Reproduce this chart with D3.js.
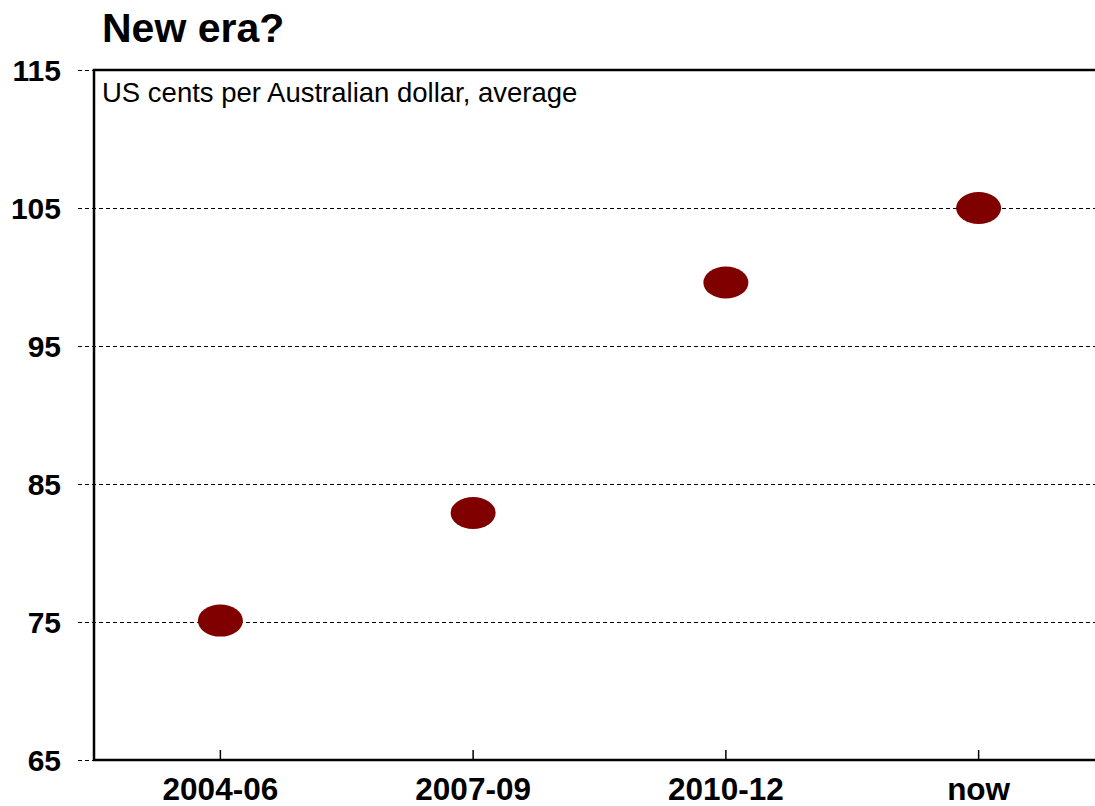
<!DOCTYPE html>
<html>
<head>
<meta charset="utf-8">
<script src="https://cdn.jsdelivr.net/npm/d3@7/dist/d3.min.js"></script>
<style>
  html, body { margin: 0; padding: 0; background: #fff; }
  svg { display: block; font-family: "Liberation Sans", Arial, sans-serif; }
</style>
</head>
<body>
<svg id="chart" width="1095" height="806"></svg>
<script>
// Exchange rate: US cents per Australian dollar, period averages
const categories = ["2004-06", "2007-09", "2010-12", "now"];
const values = [75.1, 82.9, 99.6, 105.0];
const yTicks = [65, 75, 85, 95, 105, 115];

const plot = { left: 94, right: 1105, top: 70, bottom: 760 };
const fontStack = "'Liberation Sans', Arial, sans-serif";

const svg = d3.select("#chart");

const x = d3.scaleBand()
  .domain(categories)
  .range([plot.left, plot.right])
  .paddingInner(0)
  .paddingOuter(0);

const y = d3.scaleLinear()
  .domain([65, 115])
  .range([plot.bottom, plot.top]);

// Title
svg.append("text")
  .attr("x", 102)
  .attr("y", 42)
  .attr("font-size", 41)
  .attr("font-weight", "bold")
  .attr("fill", "#000")
  .text("New era?");

// Horizontal dashed gridlines with tick stubs and labels on the left
const yAxisX = 78;
const yAxis = svg.append("g")
  .attr("transform", `translate(${yAxisX},0)`)
  .call(d3.axisLeft(y)
    .tickValues(yTicks)
    .tickSize(-(plot.right - yAxisX))
    .tickPadding(17)
    .tickFormat(d3.format("d")));
yAxis.select(".domain").remove();
yAxis.selectAll(".tick line")
  .attr("stroke", "#000")
  .attr("stroke-width", 1)
  .attr("stroke-dasharray", "4,3");
yAxis.selectAll(".tick text")
  .attr("font-size", 30)
  .attr("font-weight", "bold")
  .attr("fill", "#000")
  .attr("dy", "0.36em")
  .style("font-family", fontStack);

// Plot frame
svg.append("rect")
  .attr("x", plot.left)
  .attr("y", plot.top)
  .attr("width", plot.right - plot.left)
  .attr("height", plot.bottom - plot.top)
  .attr("fill", "none")
  .attr("stroke", "#000")
  .attr("stroke-width", 2.5);

// Category axis with short inward ticks
const xAxis = svg.append("g")
  .attr("transform", `translate(0,${plot.bottom})`)
  .call(d3.axisBottom(x)
    .tickSize(-10)
    .tickPadding(18));
xAxis.select(".domain").remove();
xAxis.selectAll(".tick line")
  .attr("stroke", "#000")
  .attr("stroke-width", 1.5);
xAxis.selectAll(".tick text")
  .attr("font-size", 31.5)
  .attr("font-weight", "bold")
  .attr("fill", "#000")
  .style("font-family", fontStack);

// Subtitle inside the frame
svg.append("text")
  .attr("x", 102)
  .attr("y", 102)
  .attr("font-size", 27.5)
  .attr("fill", "#000")
  .text("US cents per Australian dollar, average");

// Markers
svg.append("g")
  .selectAll("ellipse")
  .data(categories.map((c, i) => ({ c, v: values[i] })))
  .join("ellipse")
  .attr("cx", d => x(d.c) + x.bandwidth() / 2)
  .attr("cy", d => y(d.v))
  .attr("rx", 22.5)
  .attr("ry", 16)
  .attr("fill", "#800000");
</script>
</body>
</html>
